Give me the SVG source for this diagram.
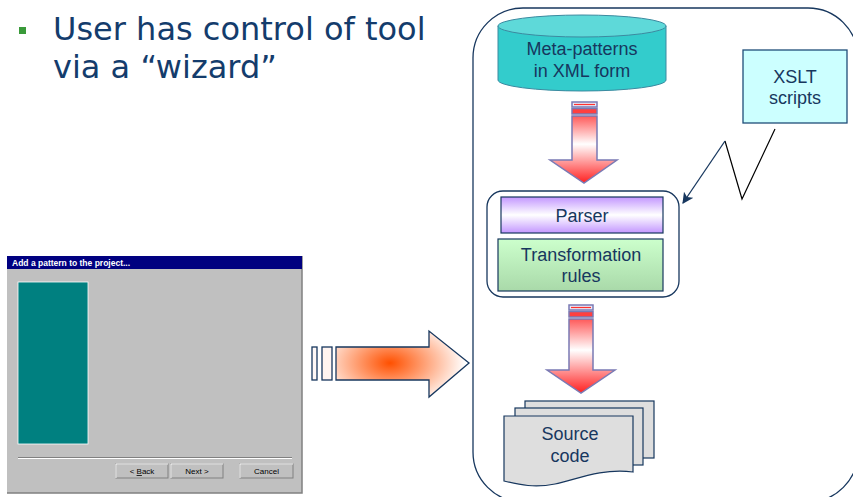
<svg xmlns="http://www.w3.org/2000/svg" width="853" height="497" viewBox="0 0 853 497">
<defs>
<style>
.lbl{font-family:"Liberation Sans",Arial,sans-serif;font-size:18px;fill:#17375e;text-anchor:middle}
.ttl{font-family:"DejaVu Sans",Verdana,sans-serif;font-size:32px;fill:#143c6c}
.btn{font-family:"Liberation Sans",Arial,sans-serif;font-size:8px;fill:#000;text-anchor:middle}
.dk{stroke:#17375e;stroke-width:1.3}
.darr{stroke:#7a7ab4;stroke-width:1.5}
</style>
<linearGradient id="gDown" x1="0" y1="0" x2="0" y2="1">
<stop offset="0" stop-color="#ff5a5a"/>
<stop offset="0.42" stop-color="#ffffff"/>
<stop offset="1" stop-color="#ff2020"/>
</linearGradient>
<linearGradient id="gParser" x1="0" y1="0" x2="0" y2="1">
<stop offset="0" stop-color="#c397ff"/>
<stop offset="0.5" stop-color="#ffffff"/>
<stop offset="1" stop-color="#c397ff"/>
</linearGradient>
<linearGradient id="gTrans" x1="0" y1="0" x2="0" y2="1">
<stop offset="0" stop-color="#ccffcc"/>
<stop offset="1" stop-color="#a9d9a9"/>
</linearGradient>
<radialGradient id="gRight" gradientUnits="userSpaceOnUse" cx="390" cy="363" r="75" gradientTransform="translate(390 363) scale(1 0.6) translate(-390 -363)">
<stop offset="0" stop-color="#ff5000"/>
<stop offset="1" stop-color="#ffffff"/>
</radialGradient>
<marker id="ah" viewBox="0 0 10 10" refX="9" refY="5" markerWidth="11" markerHeight="11" markerUnits="userSpaceOnUse" orient="auto">
<path d="M0,0 L10,5 L0,10 L2.5,5 Z" fill="#17375e"/>
</marker>
</defs>

<g id="bullet">
<rect x="19" y="27" width="7" height="7" fill="#3a9a3a"/>
<text class="ttl" x="53" y="40">User has control of tool</text>
<text class="ttl" x="53" y="78">via a “wizard”</text>
</g>

<g id="wizard">
<rect x="7" y="256" width="295" height="237" fill="#c0c0c0"/>
<path d="M302,256 V493 H7" stroke="#808080" stroke-width="1.5" fill="none"/>
<rect x="7" y="256" width="295" height="13" fill="#000080"/>
<text x="12" y="266" font-family="'Liberation Sans',Arial,sans-serif" font-size="8.5" font-weight="bold" fill="#ffffff">Add a pattern to the project...</text>
<rect x="18" y="282" width="70" height="162" fill="#008080" stroke="#ffffff" stroke-width="0.8"/>
<line x1="18" y1="457.5" x2="292" y2="457.5" stroke="#808080" stroke-width="1"/>
<line x1="18" y1="458.5" x2="292" y2="458.5" stroke="#ffffff" stroke-width="1"/>
<g>
<rect x="116" y="464" width="52" height="14" fill="#c0c0c0" stroke="#808080" stroke-width="1"/>
<path d="M116,478 V464 H168" stroke="#ffffff" fill="none"/>
<text class="btn" x="142" y="474">&lt; <tspan text-decoration="underline">B</tspan>ack</text>
<rect x="171" y="464" width="52" height="14" fill="#c0c0c0" stroke="#808080" stroke-width="1"/>
<path d="M171,478 V464 H223" stroke="#ffffff" fill="none"/>
<text class="btn" x="197" y="474">Next &gt;</text>
<rect x="240" y="464" width="53" height="14" fill="#c0c0c0" stroke="#808080" stroke-width="1"/>
<path d="M240,478 V464 H293" stroke="#ffffff" fill="none"/>
<text class="btn" x="266.5" y="474">Cancel</text>
</g>
</g>

<g id="container">
<rect x="473" y="8" width="385" height="494" rx="50" ry="50" fill="none" class="dk"/>
</g>

<g id="meta-patterns">
<path d="M498,26 V80 A84,11 0 0 0 666,80 V26" fill="#33cccc" stroke="#3c8aa0" stroke-width="1"/>
<ellipse cx="582" cy="26" rx="84" ry="11" fill="#5ed9d9" stroke="#3c8aa0" stroke-width="1"/>
<text class="lbl" x="582" y="55">Meta-patterns</text>
<text class="lbl" x="582" y="77">in XML form</text>
</g>

<g id="xslt">
<rect x="743" y="50" width="104" height="73" fill="#ccffff" stroke="#1f4e79" stroke-width="1.3"/>
<text class="lbl" x="795" y="83">XSLT</text>
<text class="lbl" x="795" y="104">scripts</text>
</g>

<g id="engine">
<rect x="487" y="191" width="192" height="106" rx="16" ry="16" fill="#ffffff" class="dk"/>
<g id="parser">
<rect x="501" y="197" width="162" height="36" fill="url(#gParser)" stroke="#17375e" stroke-width="1.2"/>
<text class="lbl" x="582" y="222">Parser</text>
</g>
<g id="transformation">
<rect x="498" y="239" width="165" height="52" fill="url(#gTrans)" stroke="#17375e" stroke-width="1.2"/>
<text class="lbl" x="581" y="261">Transformation</text>
<text class="lbl" x="581" y="282">rules</text>
</g>
</g>

<g id="source-code">
<rect x="525" y="401" width="129" height="57" fill="#dedede" stroke="#17375e" stroke-width="1.2"/>
<rect x="515" y="408" width="128" height="57" fill="#dedede" stroke="#17375e" stroke-width="1.2"/>
<path d="M504,416 H633 V472 C600,468 575,480 555,484 C535,488 520,485 504,481 Z" fill="#dedede" stroke="#17375e" stroke-width="1.2"/>
<text class="lbl" x="570" y="440">Source</text>
<text class="lbl" x="570" y="462">code</text>
</g>

<g id="connectors">
<g id="arrow-down-1">
<rect x="572" y="102" width="25" height="5" fill="#e8e8f6" class="darr"/>
<line x1="574" y1="104.5" x2="595" y2="104.5" stroke="#ff3030" stroke-width="1.2"/>
<rect x="572" y="108.5" width="25" height="5.5" fill="#ff4040" class="darr"/>
<path d="M572,116 H597 V160 H617 L584,183 L550,160 H572 Z" fill="url(#gDown)" class="darr"/>
</g>
<g id="arrow-down-2">
<rect x="569" y="305" width="24" height="5" fill="#e8e8f6" class="darr"/>
<line x1="571" y1="307.5" x2="591" y2="307.5" stroke="#ff3030" stroke-width="1.2"/>
<rect x="569" y="311.5" width="24" height="5.5" fill="#ff4040" class="darr"/>
<path d="M569,319 H593 V370 H615 L581,393 L547,370 H569 Z" fill="url(#gDown)" class="darr"/>
</g>
<g id="arrow-right">
<rect x="312" y="347" width="5" height="33" fill="#fff8f6" class="dk"/>
<rect x="322" y="347" width="10" height="33" fill="#fff4f0" class="dk"/>
<path d="M336,347 H429 V331 L469,363 L429,397 V380 H336 Z" fill="url(#gRight)" class="dk"/>
</g>
<g id="xslt-link">
<polyline points="775,129 742,199 725,141" fill="none" stroke="#000000" stroke-width="1.2"/>
<line x1="725" y1="141" x2="683" y2="203" stroke="#17375e" stroke-width="1.3" marker-end="url(#ah)"/>
</g>
</g>
</svg>
